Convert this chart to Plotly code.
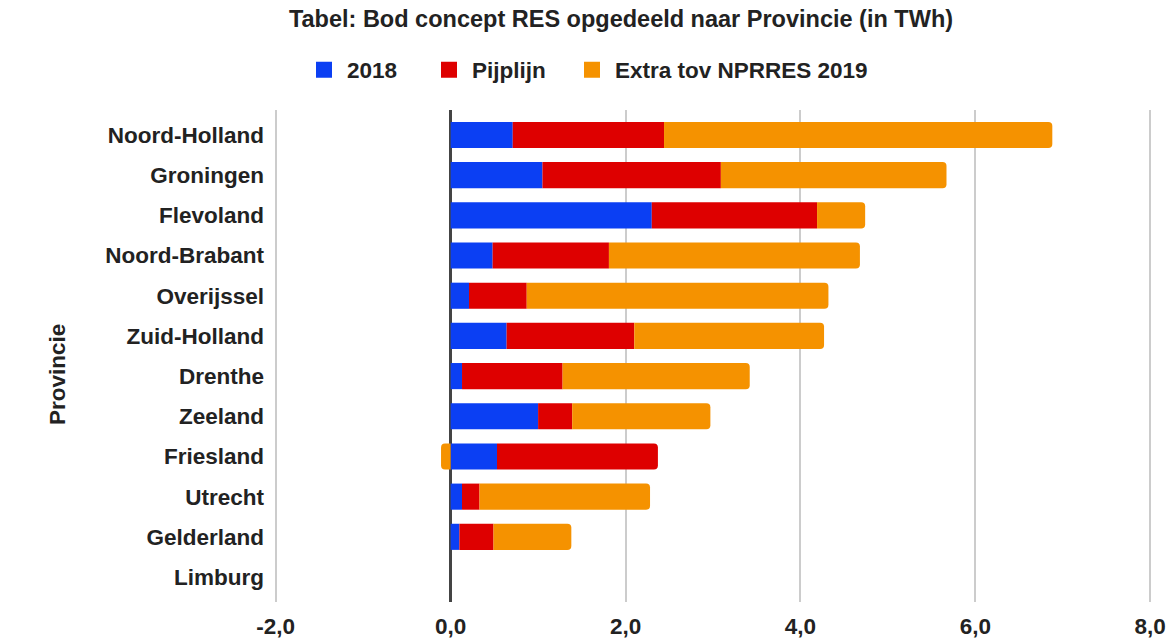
import plotly.graph_objects as go

provinces = ["Noord-Holland", "Groningen", "Flevoland", "Noord-Brabant", "Overijssel",
             "Zuid-Holland", "Drenthe", "Zeeland", "Friesland", "Utrecht", "Gelderland", "Limburg"]
v2018 = [0.71, 1.05, 2.30, 0.48, 0.21, 0.64, 0.13, 1.00, 0.53, 0.13, 0.10, 0.0]
pijplijn = [1.73, 2.04, 1.89, 1.33, 0.66, 1.46, 1.15, 0.39, 1.84, 0.20, 0.39, 0.0]
extra = [4.44, 2.58, 0.55, 2.87, 3.45, 2.17, 2.14, 1.58, -0.11, 1.95, 0.89, 0.0]
series_names = ["2018", "Pijplijn", "Extra tov NPRRES 2019"]
colors = ["#0b3ff3", "#de0000", "#f59200"]
xtick_vals = [-2, 0, 2, 4, 6, 8]
xtick_text = ["-2,0", "0,0", "2,0", "4,0", "6,0", "8,0"]

FONT = "Arial, Liberation Sans, sans-serif"
TXT = "#222222"
FS = 22.5

W, H = 1173, 641
L, R, T, B = 274, 21, 110, 39
plot_h = H - T - B
plot_w = W - L - R

# legend symbol centres (px) in the reference
legend_px = [321, 446, 589]
legend_ids = ["legend", "legend2", "legend3"]

fig = go.Figure()
for name, vals, col, lid in zip(series_names, [v2018, pijplijn, extra], colors, legend_ids):
    fig.add_trace(go.Bar(y=provinces, x=vals, name=name, orientation="h",
                         marker=dict(color=col, line=dict(width=0)), showlegend=False))
    fig.add_trace(go.Scatter(x=[None], y=[None], mode="markers", name=name, legend=lid,
                             marker=dict(symbol="square", size=16, color=col)))

legends = {}
for lid, px in zip(legend_ids, legend_px):
    legends[lid] = dict(orientation="h", x=(px - 20 - L) / plot_w, xanchor="left",
                        y=1 + (T - 70) / plot_h, yanchor="middle", itemwidth=36,
                        font=dict(family=FONT, size=FS, color=TXT, weight="bold"),
                        bgcolor="rgba(0,0,0,0)", borderwidth=0, itemclick=False)

fig.update_layout(
    width=W, height=H,
    margin=dict(l=L, r=R, t=T, b=B, autoexpand=False),
    paper_bgcolor="white", plot_bgcolor="white",
    barmode="relative", bargap=0.35, barcornerradius=4,
    font=dict(family=FONT, color=TXT, size=FS),
    title=dict(text="<b>Tabel: Bod concept RES opgedeeld naar Provincie (in TWh)</b>",
               x=621 / W, xref="container", xanchor="center",
               y=1 - 19 / H, yref="container", yanchor="middle",
               font=dict(family=FONT, size=23.5, color=TXT)),
    xaxis=dict(range=[-2.02, 8.02], tickvals=xtick_vals, ticktext=xtick_text,
               showgrid=True, gridcolor="#cccccc", gridwidth=1.5,
               zeroline=True, zerolinecolor="#444444", zerolinewidth=2.5,
               showline=False, ticks="", automargin=False, ticklabelstandoff=8,
               tickfont=dict(family=FONT, size=FS, color=TXT, weight="bold")),
    yaxis=dict(categoryorder="array", categoryarray=provinces,
               range=[11.622, -0.622], showgrid=False, zeroline=False,
               showline=False, ticks="", automargin=False, ticklabelstandoff=9,
               tickfont=dict(family=FONT, size=FS, color=TXT, weight="bold")),
    annotations=[dict(text="<b>Provincie</b>", textangle=-90, xref="paper", yref="paper",
                      x=(57 - L) / plot_w, y=(H - B - 375) / plot_h,
                      xanchor="center", yanchor="middle", showarrow=False,
                      font=dict(family=FONT, size=FS, color=TXT))],
    **legends,
)

fig.write_html("out.html", config={"displayModeBar": False},
               post_script="document.body.style.margin='0px';document.body.style.overflow='hidden';")
